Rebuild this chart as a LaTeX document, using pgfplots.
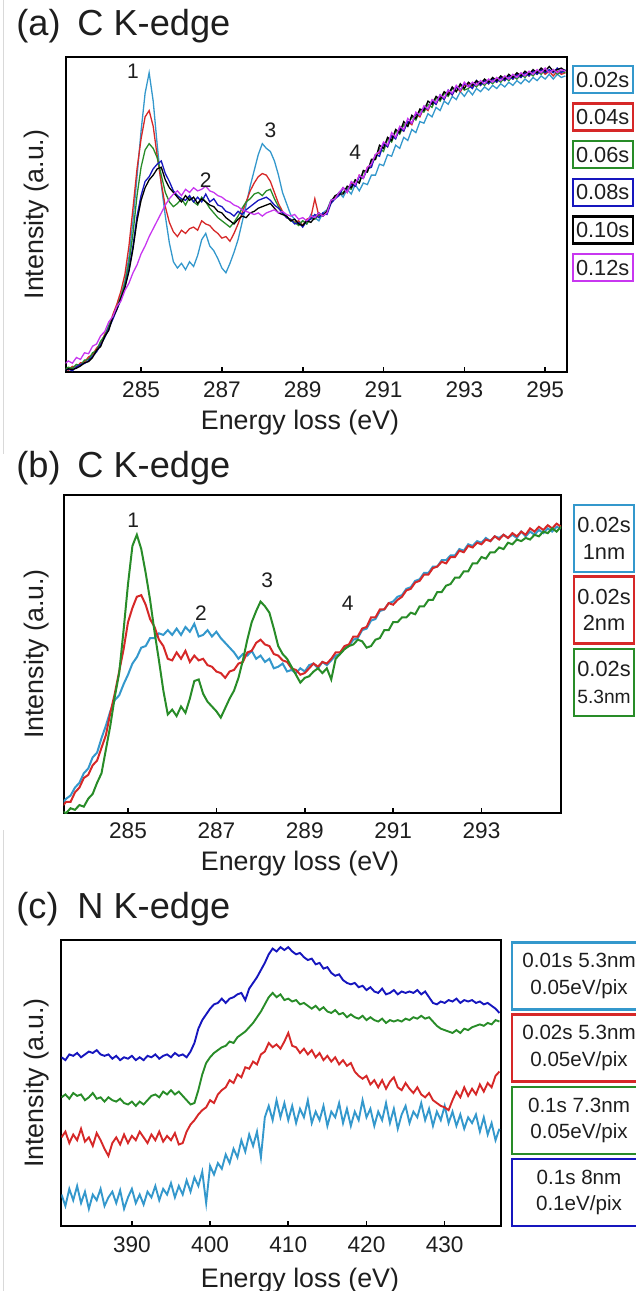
\documentclass[border=0pt]{standalone}
\usepackage{fontspec}
\setmainfont{Liberation Sans}
\usepackage{pgfplots}
\usepackage{pgfplotstable}
\pgfplotsset{compat=1.18}

\definecolor{cLB}{RGB}{52,152,204}
\definecolor{cRD}{RGB}{214,40,40}
\definecolor{cGN}{RGB}{40,140,40}
\definecolor{cDB}{RGB}{22,22,190}
\definecolor{cMG}{RGB}{200,55,240}
\definecolor{txt}{RGB}{30,30,30}

% (a) C K-edge, acquisition time series
\pgfplotstableread{
E a02 a04 a06 a08 a10 a12
283.1 0.5 1.0 0.8 0.5 0.3 2.5
283.2 1.2 0.6 1.5 0.9 1.0 3.5
283.3 1.0 1.8 1.2 0.4 0.8 2.8
283.4 2.3 1.5 2.4 1.6 1.2 4.6
283.5 2.0 2.9 2.1 2.4 1.9 4.0
283.6 3.4 3.1 3.8 2.7 2.9 6.1
283.7 4.2 4.8 3.9 3.6 3.3 5.8
283.8 5.8 5.5 6.1 5.0 4.6 8.2
283.9 7.0 7.6 6.8 6.4 6.9 8.9
284.0 9.5 9.0 9.8 8.7 8.1 11.5
284.1 11.2 12.0 11.5 10.9 11.3 12.8
284.2 14.8 14.1 14.6 13.8 13.2 15.9
284.3 17.5 18.2 17.0 16.7 17.4 17.6
284.4 20.9 21.5 20.4 19.8 19.9 20.8
284.5 24.2 25.6 23.7 22.9 23.5 22.5
284.6 29.0 31.0 28.1 27.0 26.8 25.9
284.7 36.5 40.0 34.5 32.5 31.9 28.2
284.8 48.0 52.0 44.0 40.0 39.0 31.5
284.9 62.0 64.5 56.0 49.5 48.0 34.0
285.0 76.5 74.0 65.0 56.0 54.5 37.5
285.1 88.5 81.0 70.5 60.5 58.5 40.0
285.2 95.0 83.0 72.5 62.0 61.0 43.0
285.3 86.0 78.0 71.0 64.5 62.5 45.5
285.4 72.0 68.5 68.0 66.0 64.5 48.0
285.5 59.5 60.0 62.5 67.0 65.0 50.5
285.6 49.5 52.5 57.0 63.0 61.0 53.0
285.7 41.0 47.5 54.0 60.5 58.5 55.0
285.8 35.0 44.5 52.5 57.5 57.0 56.5
285.9 33.0 43.0 53.5 56.0 55.5 57.5
286.0 34.5 45.0 55.0 55.0 54.0 56.0
286.1 32.5 44.0 53.0 54.5 56.0 58.0
286.2 35.0 45.5 55.5 56.0 54.5 57.0
286.3 33.5 46.0 54.0 54.0 55.5 58.5
286.4 37.0 45.0 53.0 55.5 53.5 57.5
286.5 42.0 48.0 55.5 54.0 55.0 58.0
286.6 44.0 47.0 54.0 56.5 54.0 59.0
286.7 40.0 46.5 52.0 54.0 53.0 57.5
286.8 38.5 45.0 50.5 55.0 52.5 57.0
286.9 36.0 44.0 49.0 53.0 51.0 56.0
287.0 33.0 42.5 48.0 52.5 50.5 55.5
287.1 31.5 43.0 47.0 51.0 49.0 54.5
287.2 34.5 41.5 46.0 50.5 48.0 54.0
287.3 38.0 44.0 47.5 49.5 47.0 53.0
287.4 42.0 47.0 49.5 51.0 48.5 52.5
287.5 47.5 50.5 52.0 50.0 49.5 51.5
287.6 53.0 54.0 54.0 51.5 49.0 51.0
287.7 59.0 57.5 55.0 52.5 50.5 50.5
287.8 64.0 60.0 56.5 53.5 51.0 50.0
287.9 69.0 62.0 57.0 54.5 52.0 50.5
288.0 72.5 63.0 56.0 55.0 52.5 49.5
288.1 71.0 62.5 57.5 55.5 53.0 50.5
288.2 70.0 60.5 58.0 54.5 53.5 51.0
288.3 67.0 57.0 55.0 53.0 52.0 51.5
288.4 62.5 53.5 52.5 52.0 50.5 50.5
288.5 57.0 51.0 50.5 50.5 50.0 51.0
288.6 53.5 49.0 49.5 49.0 49.5 50.0
288.7 50.0 48.5 48.0 48.5 48.0 49.5
288.8 48.5 47.5 47.5 47.0 48.5 50.0
288.9 47.0 48.0 46.5 47.5 47.0 48.5
289.0 48.0 46.5 48.0 46.0 46.5 49.0
289.1 47.0 48.5 47.0 48.0 48.0 48.0
289.2 50.0 49.0 49.0 48.5 47.5 49.5
289.3 49.0 55.0 48.5 50.0 49.0 49.0
289.4 48.0 49.5 50.0 49.0 50.5 50.5
289.5 50.5 50.0 49.5 50.5 49.5 49.5
289.6 51.5 51.0 51.0 50.0 51.0 50.5
289.7 54.5 54.0 54.5 53.5 54.0 54.5
289.8 55.5 55.5 55.0 55.0 56.0 55.0
289.9 57.0 56.5 57.0 56.0 56.5 57.0
290.0 55.5 58.5 57.0 58.5 56.5 58.5
290.1 58.0 57.0 58.5 57.5 59.0 57.0
290.2 56.5 60.0 58.0 59.5 58.5 60.5
290.3 59.5 59.0 61.0 59.0 61.0 59.5
290.4 57.5 62.5 60.0 62.0 60.0 62.5
290.5 60.0 61.5 63.5 61.5 64.0 61.5
290.6 59.5 65.0 63.5 64.5 63.5 65.0
290.7 62.5 65.5 67.0 65.0 67.5 66.0
290.8 62.5 69.0 67.5 69.0 67.5 69.0
290.9 66.0 69.5 71.0 68.5 72.0 70.0
291.0 65.5 72.5 70.0 72.5 71.0 73.0
291.1 69.0 71.5 74.0 71.5 74.5 72.0
291.2 68.5 75.0 73.0 75.0 73.5 76.0
291.3 72.0 74.5 76.5 74.0 77.0 74.5
291.4 71.0 77.0 75.5 77.5 76.0 78.0
291.5 74.5 76.5 78.5 76.5 79.5 77.0
291.6 73.5 79.5 78.0 79.5 78.0 80.5
291.7 77.0 78.5 81.0 79.0 81.5 79.0
291.8 76.0 82.0 80.0 82.0 80.5 82.5
291.9 79.5 81.0 83.0 81.5 83.5 81.5
292.0 79.0 84.0 82.5 84.0 83.0 84.5
292.1 82.0 83.0 85.0 83.5 86.0 83.5
292.2 81.0 86.0 84.0 86.0 85.0 86.5
292.3 84.0 85.0 87.0 85.0 87.5 85.5
292.4 83.0 87.5 86.0 88.0 86.5 88.0
292.5 86.0 86.5 88.5 86.5 89.0 87.0
292.6 85.0 89.0 87.5 89.5 88.0 89.5
292.7 87.5 88.0 90.0 88.0 90.5 88.5
292.8 86.5 90.5 89.0 90.5 89.0 91.0
292.9 89.0 89.0 91.0 89.5 91.5 89.5
293.0 87.5 91.0 89.5 91.5 90.0 92.0
293.1 89.5 91.5 90.0 91.0 92.0 90.5
293.2 88.0 90.5 91.5 90.0 91.0 92.0
293.3 90.0 92.0 90.5 92.5 92.5 91.0
293.4 89.0 91.0 92.0 91.0 91.5 92.5
293.5 90.5 92.5 91.0 92.5 93.0 91.5
293.6 89.5 91.5 92.5 91.5 92.0 93.0
293.7 91.0 93.0 91.5 93.0 93.5 92.0
293.8 90.0 92.0 93.0 92.0 92.5 93.5
293.9 91.5 93.5 92.0 93.5 94.0 92.5
294.0 90.5 92.5 93.5 92.5 93.0 94.0
294.1 92.0 94.0 92.5 94.0 94.5 93.0
294.2 91.0 93.0 94.0 93.0 93.5 94.5
294.3 92.5 94.5 93.0 94.5 95.0 93.5
294.4 91.5 93.5 94.5 93.5 94.0 95.0
294.5 93.0 95.0 93.5 95.0 95.5 94.0
294.6 92.0 94.0 95.0 94.0 94.5 95.5
294.7 93.5 95.5 94.0 95.5 96.0 94.5
294.8 92.5 94.5 95.5 94.5 95.0 96.0
294.9 94.0 96.0 94.5 96.0 96.5 95.0
295.0 93.0 94.5 96.0 95.0 95.5 96.5
295.1 94.5 95.5 95.0 96.0 97.0 95.0
295.2 93.0 94.0 96.0 95.0 95.5 96.0
295.3 94.5 95.5 94.5 96.5 96.0 95.0
295.4 93.5 94.5 95.5 95.0 96.5 96.0
295.5 94.0 95.0 95.0 96.0 95.5 95.5
}\tabA

% (b) C K-edge, thickness series at 0.02 s
\pgfplotstableread{
E b1 b2 b53
283.5 3.0 2.0 0.5
283.6 4.5 3.5 0.0
283.7 5.5 3.5 1.5
283.8 8.0 6.5 1.0
283.9 9.5 8.0 2.5
284.0 12.5 11.0 2.0
284.1 14.0 12.0 4.5
284.2 17.5 15.0 6.0
284.3 19.0 16.5 9.5
284.4 23.5 20.5 12.5
284.5 27.5 24.5 20.0
284.6 32.0 31.5 27.5
284.7 35.5 37.5 36.5
284.8 37.0 44.5 44.0
284.9 40.5 51.5 57.5
285.0 43.5 60.0 72.0
285.1 47.0 64.5 84.0
285.2 49.0 68.0 87.5
285.3 52.0 68.5 83.0
285.4 52.5 65.5 75.5
285.5 55.0 61.0 67.0
285.6 55.0 58.5 57.0
285.7 56.5 54.5 48.0
285.8 56.0 52.5 38.5
285.9 57.5 48.5 31.0
286.0 56.0 48.0 32.5
286.1 58.0 50.5 30.5
286.2 56.0 48.5 33.5
286.3 58.5 51.0 31.5
286.4 57.0 47.5 36.0
286.5 59.5 49.5 41.5
286.6 55.5 48.0 42.0
286.7 56.0 48.5 37.5
286.8 57.5 46.5 35.0
286.9 55.5 46.0 33.5
287.0 57.0 44.5 32.0
287.1 55.0 44.0 30.0
287.2 53.5 42.5 33.0
287.3 52.0 44.5 36.0
287.4 50.5 45.0 38.5
287.5 48.5 47.0 42.5
287.6 50.0 47.5 48.0
287.7 49.5 50.5 54.5
287.8 51.0 51.0 60.0
287.9 48.5 53.5 63.5
288.0 49.5 54.5 66.5
288.1 47.5 53.0 65.0
288.2 48.5 52.5 63.0
288.3 45.5 50.0 58.0
288.4 46.0 49.5 52.5
288.5 47.0 48.0 50.0
288.6 44.5 47.5 48.5
288.7 45.0 45.5 46.0
288.8 44.0 45.0 43.5
288.9 45.5 43.5 41.0
289.0 44.5 44.0 42.5
289.1 46.5 45.5 43.0
289.2 47.0 47.0 44.5
289.3 45.5 46.0 45.5
289.4 47.5 47.5 44.0
289.5 46.5 47.0 45.5
289.6 48.0 48.5 42.0
289.7 49.5 50.5 48.5
289.8 50.0 50.5 50.0
289.9 52.0 52.5 51.5
290.0 52.5 53.0 52.5
290.1 54.5 55.5 53.0
290.2 55.0 55.5 54.5
290.3 57.5 58.0 54.0
290.4 58.0 58.5 52.0
290.5 60.5 61.5 52.5
290.6 61.0 61.5 54.5
290.7 63.5 64.0 55.0
290.8 64.0 64.0 57.5
290.9 66.0 66.0 57.5
291.0 66.5 65.5 60.0
291.1 68.0 67.0 60.0
291.2 68.5 68.0 61.5
291.3 70.5 70.0 61.5
291.4 71.0 70.5 63.0
291.5 73.0 72.5 62.5
291.6 73.5 73.0 65.0
291.7 75.5 75.0 65.0
291.8 75.5 75.0 67.0
291.9 77.5 77.0 67.0
292.0 77.5 77.5 69.5
292.1 79.5 79.0 69.5
292.2 79.5 78.5 71.5
292.3 81.0 80.5 72.0
292.4 81.0 80.5 74.0
292.5 83.0 82.5 74.0
292.6 82.5 82.0 76.0
292.7 84.5 84.0 76.0
292.8 84.0 83.5 78.5
292.9 85.5 85.0 78.5
293.0 85.0 84.5 80.5
293.1 86.5 86.0 80.0
293.2 85.5 85.5 82.0
293.3 87.0 87.0 82.0
293.4 86.5 86.0 83.5
293.5 87.5 87.5 83.0
293.6 86.5 86.5 85.0
293.7 87.5 88.0 84.5
293.8 86.5 87.0 86.0
293.9 88.5 88.5 85.5
294.0 87.0 87.5 86.5
294.1 88.5 89.5 86.0
294.2 87.5 88.5 87.5
294.3 89.0 90.0 87.0
294.4 88.0 89.0 88.5
294.5 89.5 90.5 88.0
294.6 88.5 89.5 89.5
294.7 90.0 91.0 88.5
294.8 89.5 90.0 90.0
}\tabB

% (c) N K-edge, four acquisition settings
\pgfplotstableread{
E c01 c02 c1 c8
381.0 11 31 45 59
381.5 7 33 46 58
382.0 13 29 44.5 60
382.5 9 32 46.5 59.5
383.0 14 30 45.5 60.5
383.5 8 34 46 59
384.0 12 29.5 44 60
384.5 6 31 45 61
385.0 11 28 46.5 60.5
385.5 9 32.5 44.5 61.5
386.0 13 30 45 60
386.5 7 27 43.5 59.5
387.0 10 24.5 45 60
387.5 12 29 44 58.5
388.0 8 31 43.5 59.5
388.5 12.5 28.5 44.5 58
389.0 6 32 43 59
389.5 10 29 42.5 58.5
390.0 13 31.5 43.5 59.5
390.5 8 30 42 58
391.0 11 33 43.5 59
391.5 7.5 31 42.5 58
392.0 12 29 44 59.5
392.5 10 32 45.5 59
393.0 14 30 46 60
393.5 9 33 45 58.5
394.0 13 29.5 47 59.5
394.5 11 31.5 46 60
395.0 15 30 47.5 59
395.5 10 32.5 46 60.5
396.0 14 28.5 47 59.5
396.5 11 29 45.5 60
397.0 16 33 44 59
397.5 12 35.5 42.5 61
398.0 17 37 43 64
398.5 14 39 47.5 69
399.0 19 40.5 53 72
399.5 8 41.5 57 74
400.0 21 44 59 76
400.5 18 43 60.5 77.5
401.0 22 46 61.5 78
401.5 20 47.5 62.5 79.5
402.0 25 48.5 63 78
402.5 22 51 64.5 79.5
403.0 27 50 64 80
403.5 24 53 66 81
404.0 30 52 67 81.5
404.5 26 55.5 68 79
405.0 32 55 69.5 83
405.5 28 57.5 71 85
406.0 33 56.5 73 87
406.5 24 60 75 89.5
407.0 38 61 77.5 92
407.5 42 64 80 95
408.0 37 62.5 81.5 97
408.5 44 63.5 80 96
409.0 38 62 81 97.5
409.5 43 64.5 79 96.5
410.0 37 67.5 79.5 97.5
410.5 42 63 78.5 96
411.0 36 62.5 79 95
411.5 41 60.5 77.5 95.5
412.0 38 62 78 94
412.5 44 60 77 93
413.0 36 61.5 76 93.5
413.5 40 59 77 91.5
414.0 37 60.5 75.5 92
414.5 42 58 76.5 90
415.0 35 59.5 75 90.5
415.5 40 57.5 74.5 88.5
416.0 38 59 75.5 87.5
416.5 43 56.5 74 88
417.0 36 58 74.5 86
417.5 41 56 73 85
418.0 35 57 74 84.5
418.5 40 54 73 85
419.0 37 52.5 72.5 83.5
419.5 44 51.5 73.5 84
420.0 38 52.5 72 82.5
420.5 41 49.5 73 83.5
421.0 35 51 72 82
421.5 40 48.5 71.5 81.5
422.0 37 51 72.5 83
422.5 43 48 71 81
423.0 36 50.5 72 81.5
423.5 41 52 71.5 82.5
424.0 34 48.5 72 81
424.5 39 47.5 71.5 82
425.0 42 50 72.5 81.5
425.5 36 48 72 82
426.0 40 46.5 73 81.5
426.5 38 48.5 72.5 82.5
427.0 43 46 73.5 81
427.5 37 45 72.5 82
428.0 41 46.5 73 80
428.5 35 44 71.5 78
429.0 40 43 70 77.5
429.5 37 42 69 78.5
430.0 42 41.5 68.5 78
430.5 36 40.5 68 79
431.0 40 44 67.5 78.5
431.5 35 47 68.5 79.5
432.0 39 45 67.5 78
432.5 34 48.5 69 79
433.0 38 45.5 68.5 78.5
433.5 36 48 69.5 79
434.0 39 46 70 78
434.5 33 49.5 70.5 78.5
435.0 38 47 70 77.5
435.5 32 50 71 78
436.0 36 48.5 70.5 77
436.5 30 52.5 72 76
437.0 34 54 71.5 74.5
}\tabC

\pgfplotsset{
  spec/.style={
    scale only axis, anchor=south west,
    ymin=0, ymax=100, ytick=\empty,
    axis line style={line width=1pt, black},
    xtick pos=left, tick align=inside,
    major tick length=2.5pt,
    tick style={line width=0.8pt, black},
    xlabel={Energy loss (eV)}, ylabel={Intensity (a.u.)},
    label style={font=\fontsize{13.4}{15}\selectfont, text=txt},
    xticklabel style={font=\fontsize{11.3}{13}\selectfont, text=txt, anchor=base, yshift=-12.5pt},
    /pgf/number format/assume math mode=true,
    /pgf/number format/1000 sep={},
    every axis plot/.append style={no markers},
  },
}
\tikzset{peak/.style={font=\fontsize{10.5}{12}\selectfont, text=txt}}

\begin{document}
\begin{tikzpicture}
% faint page edge
\draw[gray!30, line width=0.6pt] (1.75pt,0) -- (1.75pt,-227pt);
\draw[gray!30, line width=0.6pt] (1.75pt,-415pt) -- (1.75pt,-645.5pt);

% ---------- (a) ----------
\node[anchor=base west, inner sep=0, font=\fontsize{18.1}{20}\selectfont, text=txt] at (8pt,-17.5pt) {(a)};
\node[anchor=base west, inner sep=0, font=\fontsize{18.1}{20}\selectfont, text=txt] at (38.5pt,-17.5pt) {C K-edge};
\begin{axis}[spec, at={(32.75pt,-186pt)}, width=250.75pt, height=157.5pt,
  xmin=283.13, xmax=295.54, xtick={285,287,...,295},
  xlabel style={at={(axis description cs:0.4676,0)}, anchor=base, yshift=-28.5pt},
  ylabel style={at={(axis description cs:-0.0568,0.5)}, anchor=center}]
  \addplot[cLB, line width=0.65pt] table[x=E, y=a02] {\tabA};
  \addplot[cRD, line width=0.65pt] table[x=E, y=a04] {\tabA};
  \addplot[cGN, line width=0.65pt] table[x=E, y=a06] {\tabA};
  \addplot[cDB, line width=0.65pt] table[x=E, y=a08] {\tabA};
  \addplot[black, line width=0.65pt] table[x=E, y=a10] {\tabA};
  \addplot[cMG, line width=0.65pt] table[x=E, y=a12] {\tabA};
  \node[peak] at (axis cs:284.8,95.4) {1};
  \node[peak] at (axis cs:286.6,60.8) {2};
  \node[peak] at (axis cs:288.2,76.7) {3};
  \node[peak] at (axis cs:290.3,69.8) {4};
\end{axis}
\foreach \lab/\col [count=\i from 0] in {0.02s/cLB,0.04s/cRD,0.06s/cGN,0.08s/cDB,0.10s/black,0.12s/cMG}{
  \node[draw=\col, line width=1.2pt, minimum width=30pt, minimum height=13.5pt, inner sep=0,
        font=\fontsize{10.9}{12}\selectfont, text=txt] at (301.35pt,{-39.75pt-18.8pt*\i}) {\lab};
}

% ---------- (b) ----------
\node[anchor=base west, inner sep=0, font=\fontsize{18.1}{20}\selectfont, text=txt] at (8pt,-238.5pt) {(b)};
\node[anchor=base west, inner sep=0, font=\fontsize{18.1}{20}\selectfont, text=txt] at (38.5pt,-238.5pt) {C K-edge};
\begin{axis}[spec, at={(31.75pt,-406.5pt)}, width=248.75pt, height=159pt,
  xmin=283.54, xmax=294.8, xtick={285,287,...,293},
  xlabel style={at={(axis description cs:0.4754,0)}, anchor=base, yshift=-28.5pt},
  ylabel style={at={(axis description cs:-0.0533,0.5)}, anchor=center}]
  \addplot[cLB, line width=1pt] table[x=E, y=b1] {\tabB};
  \addplot[cRD, line width=1pt] table[x=E, y=b2] {\tabB};
  \addplot[cGN, line width=1pt] table[x=E, y=b53] {\tabB};
  \node[peak] at (axis cs:285.12,92.1) {1};
  \node[peak] at (axis cs:286.65,62.8) {2};
  \node[peak] at (axis cs:288.15,73.3) {3};
  \node[peak] at (axis cs:289.97,66) {4};
\end{axis}
\node[draw=cLB, line width=1.2pt, minimum width=30pt, minimum height=33.5pt, inner sep=0, align=center,
      font=\fontsize{10.9}{13.3}\selectfont, text=txt] at (302pt,-269.25pt) {0.02s\\1nm};
\node[draw=cRD, line width=1.2pt, minimum width=30pt, minimum height=33.5pt, inner sep=0, align=center,
      font=\fontsize{10.9}{13.3}\selectfont, text=txt] at (302pt,-305pt) {0.02s\\2nm};
\node[draw=cGN, line width=1.2pt, minimum width=30pt, minimum height=33.5pt, inner sep=0, align=center,
      font=\fontsize{10.9}{13.3}\selectfont, text=txt] at (302pt,-341.25pt) {0.02s\\{\fontsize{9.6}{11}\selectfont 5.3nm}};

% ---------- (c) ----------
\node[anchor=base west, inner sep=0, font=\fontsize{18.1}{20}\selectfont, text=txt] at (8pt,-459pt) {(c)};
\node[anchor=base west, inner sep=0, font=\fontsize{18.1}{20}\selectfont, text=txt] at (38.5pt,-459pt) {N K-edge};
\begin{axis}[spec, at={(30.75pt,-613pt)}, width=219.75pt, height=143pt,
  xmin=381, xmax=437.2, xtick={390,400,...,430},
  xticklabel style={yshift=-0.5pt},
  xlabel style={at={(axis description cs:0.5427,0)}, anchor=base, yshift=-30.5pt},
  ylabel style={at={(axis description cs:-0.056,0.5)}, anchor=center}]
  \addplot[cLB, line width=0.95pt] table[x=E, y=c01] {\tabC};
  \addplot[cRD, line width=0.95pt] table[x=E, y=c02] {\tabC};
  \addplot[cGN, line width=0.95pt] table[x=E, y=c1] {\tabC};
  \addplot[cDB, line width=0.95pt] table[x=E, y=c8] {\tabC};
\end{axis}
\foreach \la/\lb/\col [count=\i from 0] in {0.01s 5.3nm/0.05eV\slash pix/cLB,0.02s 5.3nm/0.05eV\slash pix/cRD,0.1s 7.3nm/0.05eV\slash pix/cGN,0.1s 8nm/0.1eV\slash pix/cDB}{
  \node[draw=\col, line width=1.3pt, minimum width=67pt, minimum height=33.5pt, inner sep=0, align=center,
        font=\fontsize{10.3}{13.3}\selectfont, text=txt] at (289.5pt,{-488pt-36.1pt*\i}) {\la\\\lb};
}

\pgfresetboundingbox
\path[use as bounding box] (0,0) rectangle (318pt,-645.5pt);
\end{tikzpicture}
\end{document}
